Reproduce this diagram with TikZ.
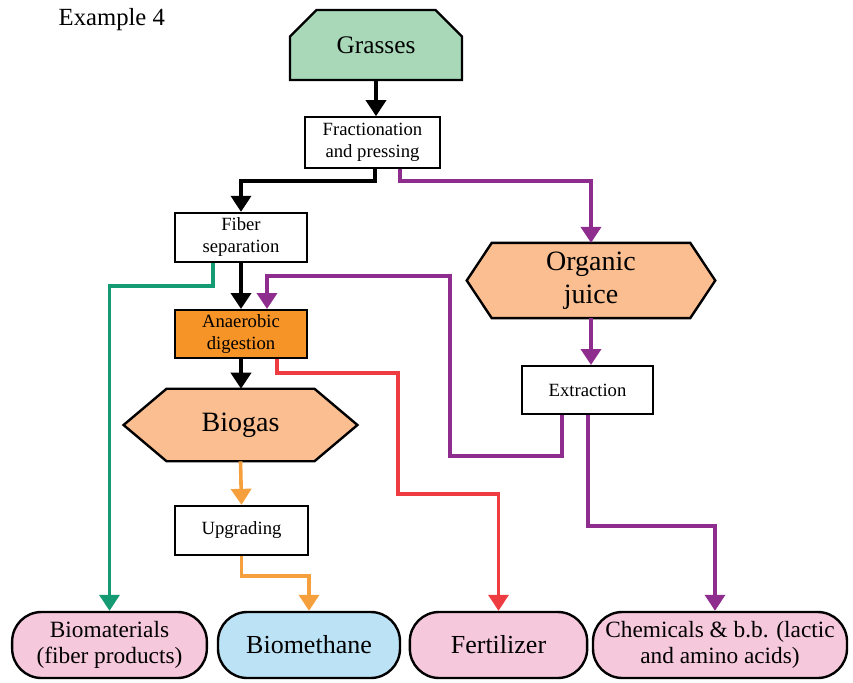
\documentclass[tikz,border=0pt]{standalone}
\usepackage{fontspec}
\setmainfont{Liberation Serif}
\usetikzlibrary{shapes.misc,arrows.meta,calc,backgrounds}
\definecolor{grassfill}{RGB}{168,216,184}
\definecolor{peach}{RGB}{250,190,145}
\definecolor{adfill}{RGB}{247,148,40}
\definecolor{pinkfill}{RGB}{246,200,220}
\definecolor{bluefill}{RGB}{188,226,245}
\definecolor{purp}{RGB}{142,45,142}
\definecolor{grn}{RGB}{20,155,115}
\definecolor{redl}{RGB}{238,60,65}
\definecolor{orgl}{RGB}{245,160,60}
\begin{document}
\begin{tikzpicture}[x=0.75pt,y=-0.75pt,
  pbox/.style={draw, line width=1.5pt, fill=white, align=center, inner sep=0pt,
    font=\rmfamily\fontsize{14}{16.5}\selectfont},
  hexnode/.style={align=center, inner sep=0pt, font=\rmfamily\fontsize{21}{25}\selectfont},
  endbox/.style={draw, line width=1.8pt, rounded corners=22pt, align=center, inner sep=0pt,
    minimum height=49.5pt, font=\rmfamily\fontsize{17.5}{19}\selectfont},
  conn/.style={line width=2.7pt, -{Triangle[length=12pt,width=15pt]}},
  hexline/.style={draw, line width=1.8pt}
]
\useasboundingbox (0,0) rectangle (853,682);

\node[anchor=west, font=\rmfamily\fontsize{18.5}{20}\selectfont] (title) at (54,20) {Example 4};

\node[draw, line width=1.8pt, fill=grassfill, chamfered rectangle,
  chamfered rectangle corners={north west,north east},
  chamfered rectangle xsep=16.5pt, chamfered rectangle ysep=13.5pt,
  minimum width=129pt, minimum height=52.5pt, inner sep=0pt,
  font=\rmfamily\fontsize{19}{22}\selectfont] (grass) at (376,45) {Grasses};

\node[pbox, minimum width=101pt, minimum height=38pt] (frac) at (372.5,142.5) {Fractionation\\and pressing};
\node[pbox, minimum width=99pt, minimum height=37pt] (fiber) at (241,237.5) {Fiber\\separation};
\node[pbox, fill=adfill, minimum width=99pt, minimum height=36pt] (anaer) at (241,334) {Anaerobic\\digestion};
\node[pbox, minimum width=98pt, minimum height=36pt] (extr) at (587.5,390) {Extraction};
\node[pbox, minimum width=100pt, minimum height=37pt] (upg) at (241.5,530.5) {Upgrading};

\node[hexnode, minimum width=186pt, minimum height=56pt] (juice) at (591,280.5) {Organic\\juice};
\node[hexnode, minimum width=175pt, minimum height=54pt] (biogas) at (240.5,425) {Biogas};
\begin{scope}[on background layer]
\draw[hexline, fill=peach] (juice.west) -- ($(juice.north west)+(25,0)$) -- ($(juice.north east)+(-25,0)$)
  -- (juice.east) -- ($(juice.south east)+(-25,0)$) -- ($(juice.south west)+(25,0)$) -- cycle;
\draw[hexline, fill=peach] (biogas.west) -- ($(biogas.north west)+(43,0)$) -- ($(biogas.north east)+(-43,0)$)
  -- (biogas.east) -- ($(biogas.south east)+(-43,0)$) -- ($(biogas.south west)+(43,0)$) -- cycle;
\end{scope}

\node[endbox, fill=pinkfill, minimum width=146pt] (biomat) at (109.5,645) {Biomaterials\\(fiber products)};
\node[endbox, fill=bluefill, minimum width=136.5pt, font=\rmfamily\fontsize{19.5}{21}\selectfont] (biometh) at (309,645) {Biomethane};
\node[endbox, fill=pinkfill, minimum width=133pt, font=\rmfamily\fontsize{19.5}{21}\selectfont] (fert) at (498.5,645) {Fertilizer};
\node[endbox, fill=pinkfill, minimum width=190.5pt] (chem) at (720,645) {Chemicals \& b.b. (lactic\\and amino acids)};

% black
\draw[conn] (grass.south) -- (grass.south |- frac.north);
\draw[conn] ($(frac.south)+(2.5,0)$) -- ++(0,12) -| (fiber.north);
\draw[conn] (fiber.south) -- (anaer.north);
\draw[conn] (anaer.south) -- (anaer.south |- biogas.north);
% purple
\draw[conn, purp] ($(frac.south)+(27.5,0)$) -- ++(0,12) -| (juice.north);
\draw[conn, purp] (juice.south) -- (juice.south |- extr.north);
\draw[conn, purp] ($(extr.south)+(-25.5,0)$) -- ++(0,41) -- ++(-112,0) -- ++(0,-180) -| ($(anaer.north)+(26,0)$);
\draw[conn, purp] ($(extr.south)+(0.5,0)$) -- ++(0,111) -| ($(chem.north)+(-5,0)$);
% green
\draw[conn, grn] ($(fiber.south)+(-28,0)$) -- ++(0,23) -| (biomat.north);
% red
\draw[conn, redl] ($(anaer.south)+(36,0)$) -- ++(0,14) -| ++(121,121) -| (fert.north);
% orange
\draw[conn, orgl] (biogas.south) -- (upg.north);
\draw[conn, orgl] (upg.south) -- ++(0,20) -| (biometh.north);
\end{tikzpicture}
\end{document}
